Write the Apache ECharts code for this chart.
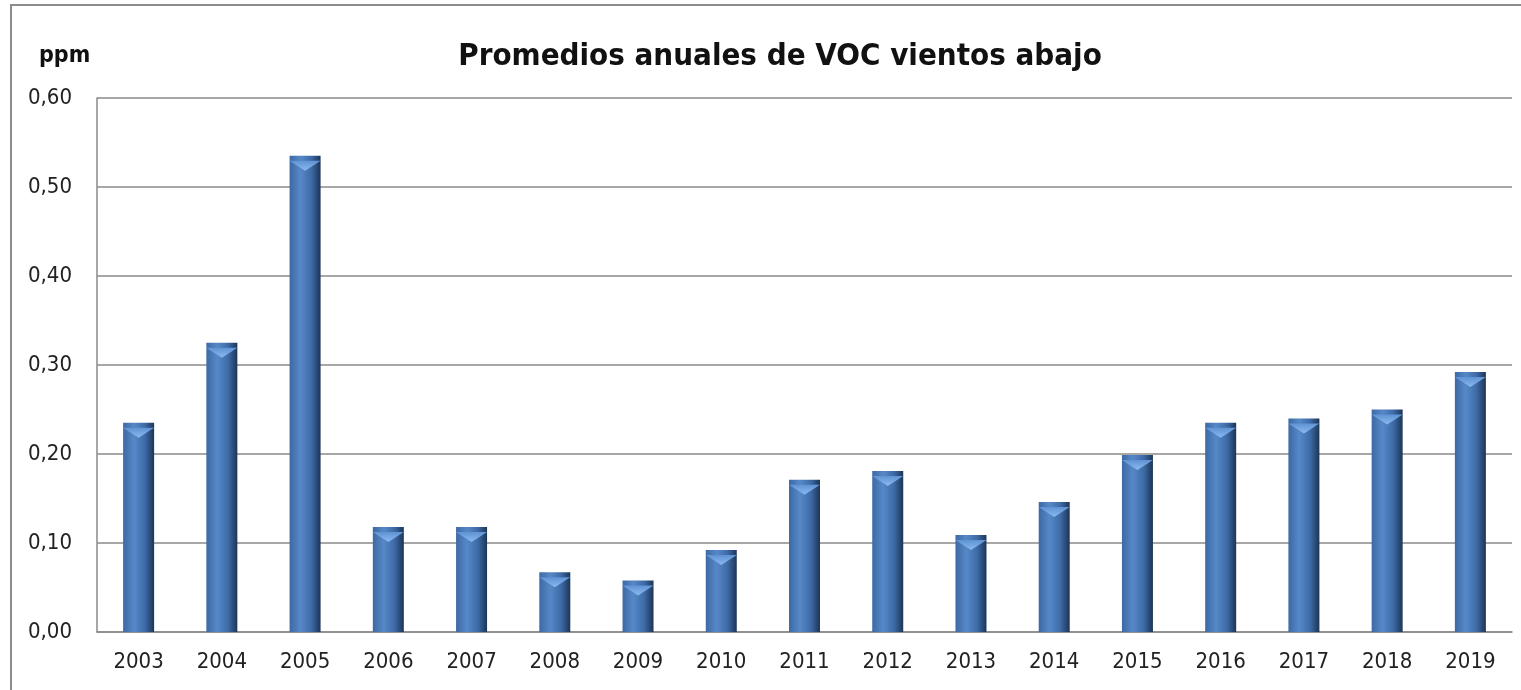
<!DOCTYPE html>
<html>
<head>
<meta charset="utf-8">
<script src="https://cdn.jsdelivr.net/npm/echarts@6/dist/echarts.min.js"></script>
<style>
  html, body { margin: 0; padding: 0; background: #fff; }
  #chart { width: 1521px; height: 690px; }
</style>
</head>
<body>
<div id="chart"></div>
<script>
// datos
var years = ["2003", "2004", "2005", "2006", "2007", "2008", "2009", "2010", "2011",
  "2012", "2013", "2014", "2015", "2016", "2017", "2018", "2019"];
var vocValues = [0.235, 0.325, 0.535, 0.118, 0.118, 0.067, 0.058, 0.092, 0.171,
  0.181, 0.109, 0.146, 0.199, 0.235, 0.240, 0.250, 0.292];

var chart = echarts.init(document.getElementById("chart"));
var font = "'DejaVu Sans Condensed', 'DejaVu Sans', sans-serif";

// degradado horizontal tipo "cilindro" de Excel
var barColor = new echarts.graphic.LinearGradient(0, 0, 1, 0, [
  { offset: 0, color: "#3d69a3" },
  { offset: 0.35, color: "#5688c8" },
  { offset: 0.7, color: "#3e6ba7" },
  { offset: 1, color: "#1c3556" },
]);

chart.setOption({
  animation: false,
  textStyle: { fontFamily: font },
  title: [
    {
      text: "Promedios anuales de VOC vientos abajo",
      left: 775,
      top: 36,
      textAlign: "center",
      textStyle: { fontSize: 31, fontWeight: "bold", color: "#111", fontFamily: font },
    },
    {
      text: "ppm",
      left: 34,
      top: 40,
      textStyle: { fontSize: 23, fontWeight: "bold", color: "#111", fontFamily: font },
    },
  ],
  graphic: [
    {
      type: "rect",
      shape: { x: 11, y: 5, width: 1600, height: 800 },
      style: { fill: "none", stroke: "#8c8c8c", lineWidth: 2 },
    },
  ],
  grid: { left: 97, right: 9, top: 98, bottom: 58 },
  xAxis: {
    type: "category",
    data: years,
    axisLine: { lineStyle: { color: "#8a8a8a", width: 1.5 } },
    axisTick: { show: false },
    axisLabel: { fontSize: 22, color: "#222", margin: 19, fontFamily: font },
  },
  yAxis: {
    type: "value",
    min: 0,
    max: 0.6,
    interval: 0.1,
    axisLine: { show: true, lineStyle: { color: "#8a8a8a", width: 1.5 } },
    axisTick: { show: false },
    splitLine: { lineStyle: { color: "#8a8a8a", width: 1.5 } },
    axisLabel: {
      fontSize: 22,
      color: "#222",
      margin: 25,
      fontFamily: font,
      formatter: function (v) {
        return v.toFixed(2).replace(".", ",");
      },
    },
  },
  series: [
    {
      type: "bar",
      data: vocValues,
      barWidth: 31,
      itemStyle: { color: barColor },
      z: 2,
    },
    {
      // bisel claro en la parte alta de cada barra
      type: "pictorialBar",
      data: vocValues,
      symbol: "path://M0,0 L10,0 L5,4 Z",
      symbolSize: [31, 10],
      symbolPosition: "end",
      symbolOffset: [0, "50%"],
      itemStyle: {
        color: new echarts.graphic.LinearGradient(0, 0, 0, 1, [
          { offset: 0, color: "#5e92d3" },
          { offset: 1, color: "#8cbaf0" },
        ]),
      },
      z: 3,
    },
  ],
});
</script>
</body>
</html>
